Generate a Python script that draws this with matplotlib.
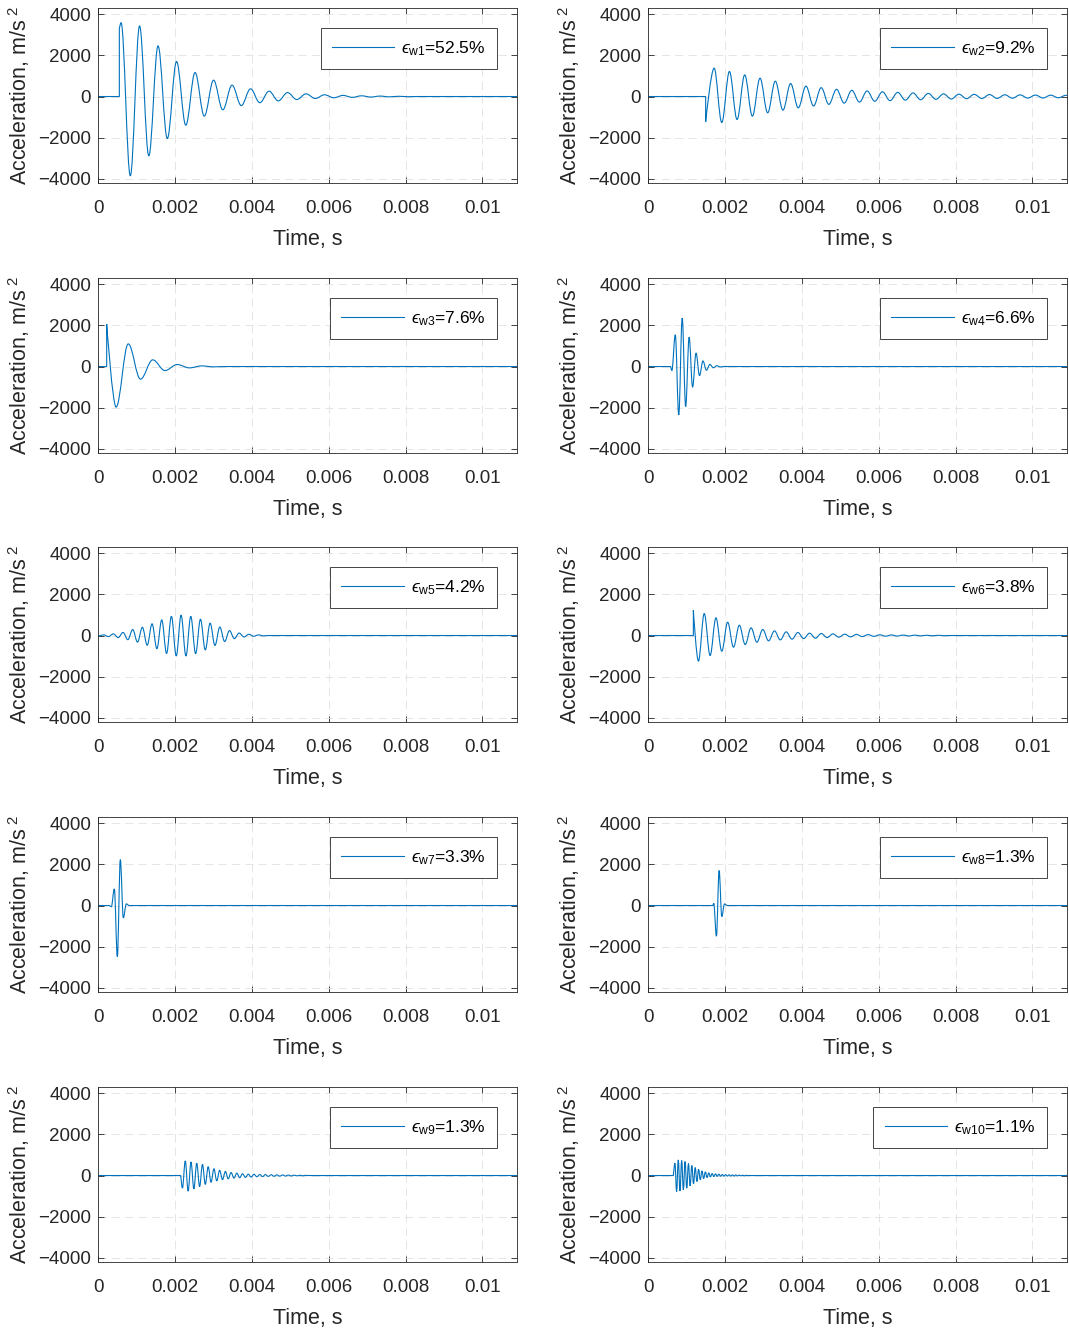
import numpy as np
import matplotlib
matplotlib.use("Agg")
import matplotlib.pyplot as plt
from matplotlib.path import Path
from matplotlib.patches import PathPatch
from matplotlib.lines import Line2D
from matplotlib.ticker import FuncFormatter

plt.rcParams['font.family'] = ['Liberation Sans', 'DejaVu Sans']
plt.rcParams['mathtext.fontset'] = 'custom'
plt.rcParams['mathtext.rm'] = 'Liberation Sans'
plt.rcParams['mathtext.it'] = 'Liberation Sans:italic'
plt.rcParams['mathtext.fallback'] = 'stixsans'

# ---- data (times in s, acceleration in m/s^2) ----
eps_pct = [52.5, 9.2, 7.6, 6.6, 4.2, 3.8, 3.3, 1.3, 1.3, 1.1]

onset_t = [0.000555, 0.0015, 0.000226, 0.00059, 0.0, 0.00118, 0.00030, 0.00169, 0.002152, 0.00066]
onset_jump = [3300, -1230, 2060, 0, 0, 1230, 0, 0, 0, 0]
first_peak_t = [0.0006, 0.00172, 0.00047, 0.00062, 0.0000213, 0.001311, 0.000347, 0.00171, 0.002196, 0.00070]
half_period = [0.0002406, 0.000199, 0.000318, 0.00009, 0.0001259, 0.0001522, 0.000078, 0.00007, 0.0000745, 0.000044]

# successive extrema (peak, trough, peak, ...) of each mode
w1_peaks = [3590, -3850, 3430, -2880, 2460, -2040, 1700, -1390, 1165, -950, 795, -645,
            553, -440, 374, -300, 260, -210, 190, -145, 130, -95, 85, -60, 55, -40,
            35, -25, 22, -15, 12, -8]
w2_peaks = [1380, -1260, 1215, -1115, 1050, -950, 890, -790, 745, -660, 630, -550,
            505, -460, 430, -380, 350, -320, 300, -270, 270, -230, 230, -200, 200, -175,
            175, -155, 150, -135, 130, -120, 115, -105, 105, -95, 95, -90, 85, -80,
            80, -75, 70, -70, 65, -60, 60, -55]
w3_peaks = [-1970, 1100, -615, 325, -195, 97, -65, 30, -15]
w4_peaks = [-195, 1540, -2350, 2350, -1940, 1420, -1000, 650, -440, 270, -180, 100, -60, 40, -20]
w5_peaks = [-15, 30, -50, 80, -100, 150, -200, 290, -320, 400, -470, 570, -640, 760,
            -870, 930, -990, 990, -990, 930, -880, 790, -700, 600, -480, 410, -290, 240,
            -150, 120, -70, 60, -35, 30, -15]
w6_peaks = [-1246, 1068, -971, 858, -760, 647, -566, 500, -437, 372, -324, 291, -259,
            226, -210, 178, -178, 146, -146, 113, -129, 97, -97, 80, -80, 65, -65, 55,
            -50, 45, -40, 35, -32, 28, -25, 22, -20, 18, -16, 14, -12, 10, -8]
w7_peaks = [-60, 810, -2480, 2230, -600, 80]
w8_peaks = [110, -1490, 1700, -535, 80]
w9_peaks = [-615, 712, -760, 660, -650, 600, -540, 540, -430, 430, -330, 330, -260, 255,
            -200, 195, -160, 145, -125, 115, -105, 85, -90, 65, -75, 60, -60, 50, -50,
            45, -42, 38, -35, 32, -30, 28, -25, 22, -20, 18, -16, 14, -12, 10]
w10_peaks = [600, -777, 760, -744, 728, -696, 680, -615, 583, -502, 486, -405, 388, -291,
             307, -210, 227, -146, 178, -97, 129, -65, 97, -49, 81, -40, 65, -32, 49,
             -28, 40, -25, 35, -22, 30, -20, 25, -18, 20, -15, 15, -12, 10]

all_peaks = [w1_peaks, w2_peaks, w3_peaks, w4_peaks, w5_peaks,
             w6_peaks, w7_peaks, w8_peaks, w9_peaks, w10_peaks]

t_end = 0.0109
x_ticks = [0, 0.002, 0.004, 0.006, 0.008, 0.01]
y_ticks = [-4000, -2000, 0, 2000, 4000]

blue = '#0072BD'
dark = '#262626'
K = 1 - 2 / np.pi   # bezier handle so each half-wave looks like a cosine arc


def wave_path(t0, j0, t1, h, peaks):
    verts = [(0, 0), (t0, 0)]
    codes = [Path.MOVETO, Path.LINETO]
    if j0 != 0:
        verts.append((t0, j0))
        codes.append(Path.LINETO)
    pts = [(t1 + i * h, a) for i, a in enumerate(peaks)]
    pts.append((t1 + len(peaks) * h, 0))
    prev = (t0, j0)
    for i, p in enumerate(pts):
        dt = p[0] - prev[0]
        c1 = prev if i == 0 else (prev[0] + K * dt, prev[1])
        c2 = (p[0] - K * dt, p[1])
        verts += [c1, c2, p]
        codes += [Path.CURVE4] * 3
        prev = p
    verts.append((max(t_end, prev[0]), 0))
    codes.append(Path.LINETO)
    return Path(verts, codes)


fig = plt.figure(figsize=(10.69, 13.29), dpi=100)
W, H = 1069, 1329
lefts = [98, 648]
tops = [8, 278, 547, 817, 1087]
aw, ah = 419, 175

for k in range(10):
    r, c = divmod(k, 2)
    ax = fig.add_axes([lefts[c] / W, 1 - (tops[r] + ah) / H, aw / W, ah / H])
    path = wave_path(onset_t[k], onset_jump[k], first_peak_t[k], half_period[k], all_peaks[k])
    ax.add_patch(PathPatch(path, facecolor='none', edgecolor=blue, lw=0.8))

    ax.set_xlim(0, t_end)
    ax.set_ylim(-4200, 4300)
    ax.set_xticks(x_ticks)
    ax.set_yticks(y_ticks)
    ax.xaxis.set_major_formatter(FuncFormatter(lambda v, p: '%g' % v))
    ax.grid(True, color='#e0e0e0', linestyle=(0, (10, 6)), lw=0.6)
    ax.set_axisbelow(True)
    for s in ax.spines.values():
        s.set_color(dark)
        s.set_linewidth(0.6)
    ax.tick_params(direction='in', top=True, right=True, length=4, width=0.6,
                   colors=dark, labelsize=13.5)
    ax.tick_params(axis='x', pad=12)
    ax.tick_params(axis='y', pad=5)
    ax.set_xlabel('Time, s', fontsize=15.5, color=dark, labelpad=9)
    ax.set_ylabel('Acceleration, m/s$^{\\ 2}$', fontsize=15.5, color=dark, labelpad=4)

    lab = '$\u03f5_{\\mathrm{w%d}}$=%.1f%%' % (k + 1, eps_pct[k])
    h = Line2D([], [], color=blue, lw=0.8)
    leg = ax.legend([h], [lab], loc='upper right', fontsize=12.5, handlelength=3.6,
                    handletextpad=0.4, borderaxespad=1.15, fancybox=False,
                    framealpha=1, edgecolor=dark, borderpad=0.65)
    leg.get_frame().set_linewidth(0.6)

fig.savefig('out.png', dpi=100)
